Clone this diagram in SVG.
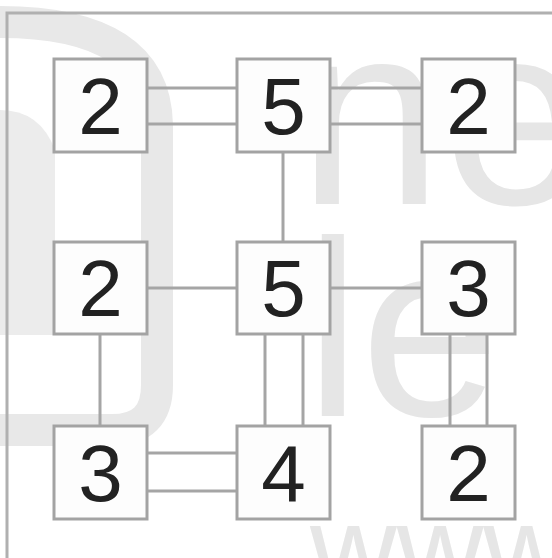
<svg xmlns="http://www.w3.org/2000/svg" width="552" height="558" viewBox="0 0 552 558">
<style>
.box{fill:#fdfdfd;stroke:#a3a3a3;stroke-width:3}
.num{font-family:"Liberation Sans",Arial,sans-serif;font-size:80px;fill:#222;text-anchor:middle}
.br{stroke:#a5a5a5;stroke-width:3;fill:none}
.wm{font-family:"Liberation Sans",Arial,sans-serif;fill:#e6e6e6}
</style>
<rect width="552" height="558" fill="#ffffff"/>
<g id="watermark">
<path d="M0,22 Q155,22 157,125 L157,385 Q157,430 112,430 L0,430" fill="none" stroke="#e8e8e8" stroke-width="32"/>
<path d="M0,110 Q40,110 55,150 L55,335 L0,335 Z" fill="#ececec"/>
<text class="wm" x="298" y="204" font-size="260">ne</text>
<text class="wm" x="305" y="416" font-size="250">le</text>
<text class="wm" x="310" y="590" font-size="120">www.n</text>
</g>
<g id="frame">
<path d="M7,558 L7,13 L552,13" fill="none" stroke="#b0b0b0" stroke-width="3"/>
</g>
<g id="connectors" class="br">
<line x1="147" y1="88" x2="237" y2="88"/>
<line x1="147" y1="124" x2="237" y2="124"/>
<line x1="330" y1="88" x2="422" y2="88"/>
<line x1="330" y1="124" x2="422" y2="124"/>
<line x1="283" y1="152" x2="283" y2="242"/>
<line x1="147" y1="288" x2="237" y2="288"/>
<line x1="330" y1="288" x2="422" y2="288"/>
<line x1="100" y1="334" x2="100" y2="426"/>
<line x1="265" y1="334" x2="265" y2="426"/>
<line x1="303" y1="334" x2="303" y2="426"/>
<line x1="450" y1="334" x2="450" y2="426"/>
<line x1="487" y1="334" x2="487" y2="426"/>
<line x1="147" y1="453" x2="237" y2="453"/>
<line x1="147" y1="491" x2="237" y2="491"/>
</g>
<g id="n1"><rect class="box" x="54" y="59" width="93" height="93"/><text class="num" x="100.5" y="134">2</text></g>
<g id="n2"><rect class="box" x="237" y="59" width="93" height="93"/><text class="num" x="283.5" y="134">5</text></g>
<g id="n3"><rect class="box" x="422" y="59" width="93" height="93"/><text class="num" x="468.5" y="134">2</text></g>
<g id="n4"><rect class="box" x="54" y="242" width="93" height="92"/><text class="num" x="100.5" y="316">2</text></g>
<g id="n5"><rect class="box" x="237" y="242" width="93" height="92"/><text class="num" x="283.5" y="316">5</text></g>
<g id="n6"><rect class="box" x="422" y="242" width="93" height="92"/><text class="num" x="468.5" y="316">3</text></g>
<g id="n7"><rect class="box" x="54" y="426" width="93" height="93"/><text class="num" x="100.5" y="501">3</text></g>
<g id="n8"><rect class="box" x="237" y="426" width="93" height="93"/><text class="num" x="283.5" y="501">4</text></g>
<g id="n9"><rect class="box" x="422" y="426" width="93" height="93"/><text class="num" x="468.5" y="501">2</text></g>
</svg>
